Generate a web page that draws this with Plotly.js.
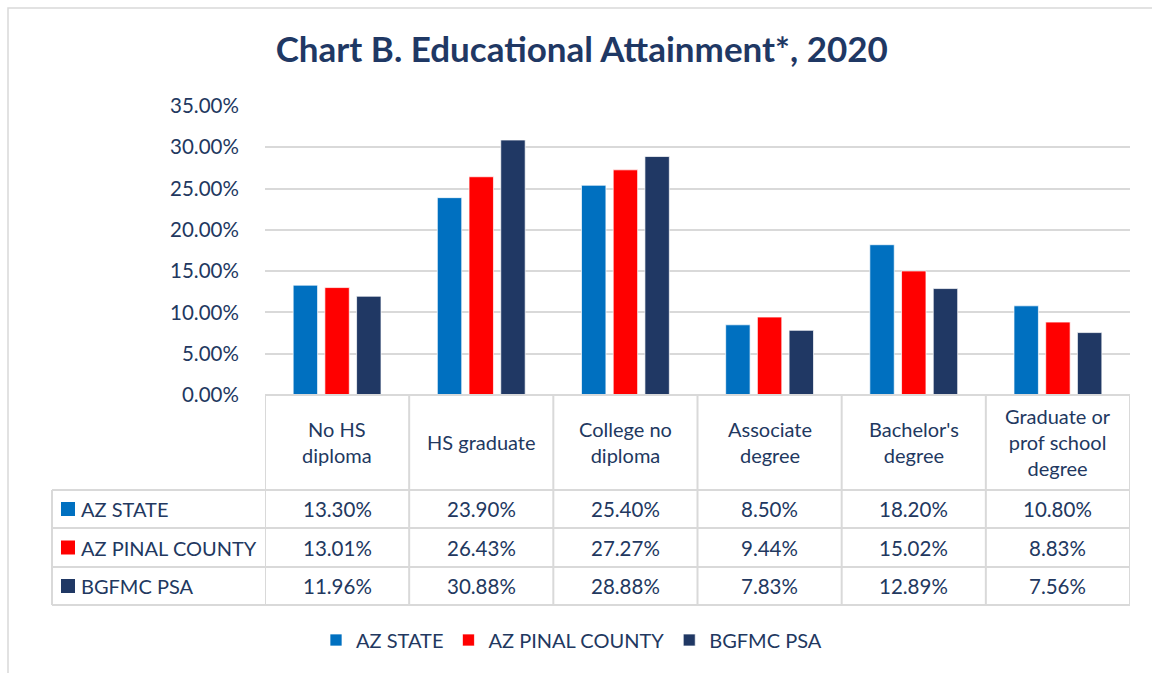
<!DOCTYPE html>
<html>
<head>
<meta charset="utf-8">
<script src="https://cdn.plot.ly/plotly-3.0.1.min.js"></script>
<style>html,body{margin:0;padding:0;background:#fff;}#chart{width:1152px;height:673px;}</style>
</head>
<body>
<div id="chart"></div>
<script>
const categories = ['No HS diploma', 'HS graduate', 'College no diploma', 'Associate degree', "Bachelor's degree", 'Graduate or prof school degree'];
const headerLabels = ['No HS<br>diploma', 'HS graduate', 'College no<br>diploma', 'Associate<br>degree', "Bachelor's<br>degree", 'Graduate or<br>prof school<br>degree'];
const seriesNames = ['AZ STATE', 'AZ PINAL COUNTY', 'BGFMC PSA'];
const azState = [13.30, 23.90, 25.40, 8.50, 18.20, 10.80];
const azPinal = [13.01, 26.43, 27.27, 9.44, 15.02, 8.83];
const bgfmcPsa = [11.96, 30.88, 28.88, 7.83, 12.89, 7.56];
const yTickVals = [0, 5, 10, 15, 20, 25, 30, 35];
const yTickLabels = ['0.00%', '5.00%', '10.00%', '15.00%', '20.00%', '25.00%', '30.00%', '35.00%'];

const seriesValues = [azState, azPinal, bgfmcPsa];
const colors = ['#0070C0', '#FF0000', '#203864'];
const textColor = '#22385f';
const gridColor = '#D9D9D9';
const FONT = 'Lato, "Open Sans", sans-serif';

// layout geometry (pixels)
const W = 1152, H = 673;
const PL = 265, PR = 1130, PT = 106, PB = 395;
const px = x => (x - PL) / (PR - PL);
const py = y => (PB - y) / (PB - PT);

const traces = seriesNames.map((name, i) => ({
  type: 'bar',
  name: name,
  x: categories,
  y: seriesValues[i],
  marker: {color: colors[i], line: {color: 'rgba(255,255,255,0.7)', width: 1}},
  hoverinfo: 'x+y+name'
}));

const shapes = [];
const annotations = [];
const lineStyle = {color: gridColor, width: 2};

// table borders
const rowLines = [490, 528, 567, 605];
shapes.push({type: 'line', xref: 'paper', yref: 'paper', x0: 0, x1: 1, y0: 0, y1: 0, line: lineStyle, layer: 'above'});
rowLines.forEach(r => {
  shapes.push({type: 'line', xref: 'paper', yref: 'paper', x0: px(52), x1: 1, y0: py(r), y1: py(r), line: lineStyle});
});
for (let i = 0; i <= categories.length; i++) {
  shapes.push({type: 'line', xref: 'x', yref: 'paper', x0: i - 0.5, x1: i - 0.5, y0: 0, y1: py(605), line: lineStyle});
}
shapes.push({type: 'line', xref: 'paper', yref: 'paper', x0: px(52), x1: px(52), y0: py(490), y1: py(605), line: lineStyle});

// outer chart border
shapes.push({type: 'rect', xref: 'paper', yref: 'paper', x0: px(8), x1: px(1170), y0: py(8), y1: py(690), line: {color: '#D9D9D9', width: 1.5}, fillcolor: 'rgba(0,0,0,0)'});

// header labels
categories.forEach((c, i) => {
  annotations.push({xref: 'x', yref: 'paper', x: c, y: py(442), text: headerLabels[i], showarrow: false,
    xanchor: 'center', yanchor: 'middle', font: {family: FONT, size: 20, color: textColor}});
});

// data rows
const rowCenters = [509, 547.5, 586];
seriesNames.forEach((name, s) => {
  const yc = py(rowCenters[s]);
  shapes.push({type: 'rect', xref: 'paper', yref: 'paper', x0: px(61), x1: px(75),
    y0: py(rowCenters[s] + 7), y1: py(rowCenters[s] - 7), line: {width: 0}, fillcolor: colors[s]});
  annotations.push({xref: 'paper', yref: 'paper', x: px(79), y: yc, text: name, showarrow: false,
    xanchor: 'left', yanchor: 'middle', font: {family: FONT, size: 20, color: textColor}});
  categories.forEach((c, i) => {
    annotations.push({xref: 'x', yref: 'paper', x: c, y: yc, text: seriesValues[s][i].toFixed(2) + '%', showarrow: false,
      xanchor: 'center', yanchor: 'middle', font: {family: FONT, size: 20.5, color: textColor}});
  });
});

const layout = {
  width: W, height: H,
  margin: {l: PL, r: W - PR, t: PT, b: H - PB, pad: 0},
  paper_bgcolor: '#ffffff',
  plot_bgcolor: '#ffffff',
  title: {
    text: '<b>Chart B. Educational Attainment*, 2020</b>',
    x: 0.505, xref: 'container', xanchor: 'center',
    y: 1 - 50 / H, yref: 'container', yanchor: 'middle',
    font: {family: FONT, size: 35, color: '#1F3864'}
  },
  barmode: 'group',
  bargap: 0.34,
  bargroupgap: 0.23,
  xaxis: {
    type: 'category',
    range: [-0.5, categories.length - 0.5],
    showticklabels: false, showgrid: false, zeroline: false, showline: false, ticks: ''
  },
  yaxis: {
    range: [0, 35],
    tickmode: 'array',
    tickvals: yTickVals,
    ticktext: yTickLabels,
    showgrid: true, gridcolor: gridColor, gridwidth: 2,
    zeroline: false, showline: false,
    ticks: 'outside', ticklen: 21, tickcolor: 'rgba(0,0,0,0)',
    tickfont: {family: FONT, size: 20.5, color: textColor}
  },
  showlegend: true,
  legend: {
    orientation: 'h',
    x: px(316), xanchor: 'left',
    y: py(640), yanchor: 'middle',
    font: {family: FONT, size: 20, color: textColor},
    itemwidth: 30,
    traceorder: 'normal'
  },
  shapes: shapes,
  annotations: annotations
};

Plotly.newPlot('chart', traces, layout, {displayModeBar: false, responsive: false});
</script>
</body>
</html>
